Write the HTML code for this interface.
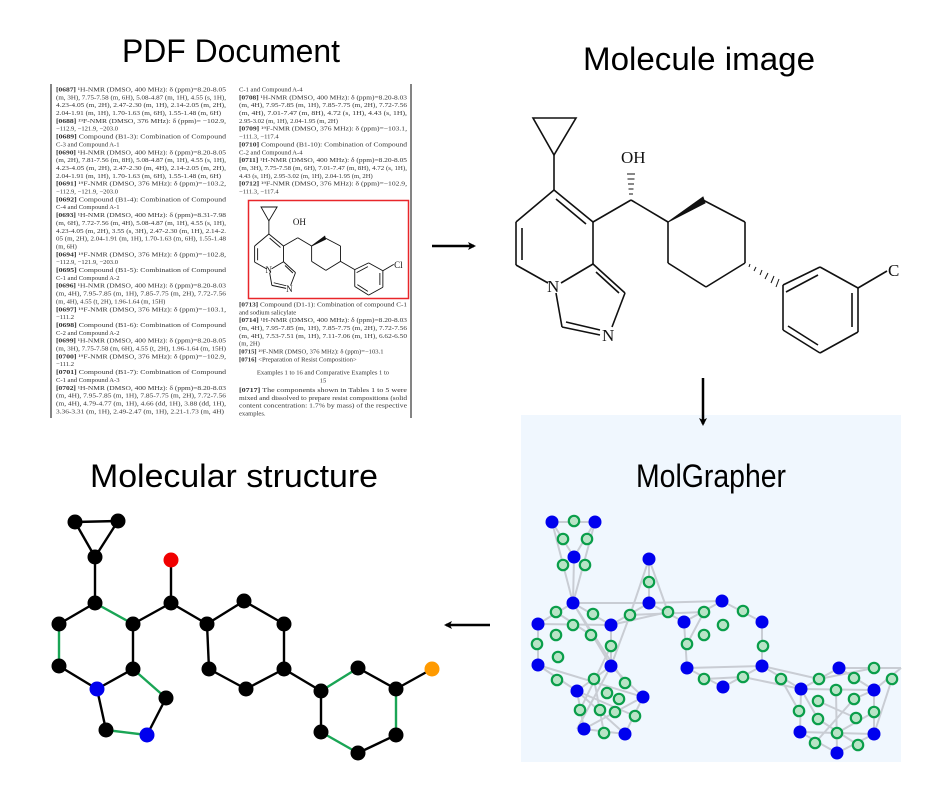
<!DOCTYPE html>
<html><head><meta charset="utf-8"><style>
html,body{margin:0;padding:0;background:#fff;}
svg{display:block;}
.t{font-family:"Liberation Sans",sans-serif;fill:#000;}
.d{font-family:"Liberation Serif",serif;font-size:6.6px;fill:#333;}
.b{font-weight:bold;}
</style></head><body>
<svg width="934" height="794" viewBox="0 0 934 794" xmlns="http://www.w3.org/2000/svg">
<defs>
<marker id="ah" markerWidth="8" markerHeight="8" refX="6" refY="4" orient="auto" markerUnits="userSpaceOnUse"><path d="M0,0 L8,4 L0,8 L2,4 Z" fill="#000"/></marker>
</defs>

<!-- titles -->
<text class="t" x="122" y="62" font-size="32" textLength="218" lengthAdjust="spacingAndGlyphs">PDF Document</text>
<text class="t" x="583" y="70" font-size="32" textLength="232" lengthAdjust="spacingAndGlyphs">Molecule image</text>
<rect x="521" y="415" width="380" height="347" fill="#f0f7fe"/>
<text class="t" x="90" y="487" font-size="32" textLength="288" lengthAdjust="spacingAndGlyphs">Molecular structure</text>
<text class="t" x="636" y="487" font-size="32" textLength="150" lengthAdjust="spacingAndGlyphs">MolGrapher</text>

<!-- arrows -->
<g stroke="#000" stroke-width="2.5" fill="none">
<line x1="432" y1="246" x2="474" y2="246" marker-end="url(#ah)"/>
<line x1="703" y1="378" x2="703" y2="424" marker-end="url(#ah)"/>
<line x1="490" y1="625" x2="446" y2="625" marker-end="url(#ah)"/>
</g>

<!-- PDF document -->
<line x1="51" y1="84" x2="51" y2="418" stroke="#333" stroke-width="1.2"/>
<line x1="411" y1="84" x2="411" y2="418" stroke="#333" stroke-width="1.2"/>
<g class="d">
<text x="56" y="91.5" textLength="170" lengthAdjust="spacingAndGlyphs"><tspan class="b">[0687]</tspan> ¹H-NMR (DMSO, 400 MHz): δ (ppm)=8.20-8.05</text>
<text x="56" y="99.3" textLength="170" lengthAdjust="spacingAndGlyphs">(m, 3H), 7.75-7.58 (m, 6H), 5.08-4.87 (m, 1H), 4.55 (s, 1H),</text>
<text x="56" y="107.2" textLength="170" lengthAdjust="spacingAndGlyphs">4.23-4.05 (m, 2H), 2.47-2.30 (m, 1H), 2.14-2.05 (m, 2H),</text>
<text x="56" y="115.0" textLength="165" lengthAdjust="spacingAndGlyphs">2.04-1.91 (m, 1H), 1.70-1.63 (m, 6H), 1.55-1.48 (m, 6H)</text>
<text x="56" y="122.9" textLength="170" lengthAdjust="spacingAndGlyphs"><tspan class="b">[0688]</tspan> ¹⁹F-NMR (DMSO, 376 MHz): δ (ppm)= −102.9,</text>
<text x="56" y="130.7">−112.9, −121.9, −203.0</text>
<text x="56" y="138.6" textLength="170" lengthAdjust="spacingAndGlyphs"><tspan class="b">[0689]</tspan> Compound (B1-3): Combination of Compound</text>
<text x="56" y="146.4">C-3 and Compound A-1</text>
<text x="56" y="154.3" textLength="170" lengthAdjust="spacingAndGlyphs"><tspan class="b">[0690]</tspan> ¹H-NMR (DMSO, 400 MHz): δ (ppm)=8.20-8.05</text>
<text x="56" y="162.1" textLength="170" lengthAdjust="spacingAndGlyphs">(m, 2H), 7.81-7.56 (m, 8H), 5.08-4.87 (m, 1H), 4.55 (s, 1H),</text>
<text x="56" y="170.0" textLength="170" lengthAdjust="spacingAndGlyphs">4.23-4.05 (m, 2H), 2.47-2.30 (m, 4H), 2.14-2.05 (m, 2H),</text>
<text x="56" y="177.8" textLength="165" lengthAdjust="spacingAndGlyphs">2.04-1.91 (m, 1H), 1.70-1.63 (m, 6H), 1.55-1.48 (m, 6H)</text>
<text x="56" y="185.7" textLength="170" lengthAdjust="spacingAndGlyphs"><tspan class="b">[0691]</tspan> ¹⁹F-NMR (DMSO, 376 MHz): δ (ppm)=−103.2,</text>
<text x="56" y="193.5">−112.9, −121.9, −203.0</text>
<text x="56" y="201.4" textLength="170" lengthAdjust="spacingAndGlyphs"><tspan class="b">[0692]</tspan> Compound (B1-4): Combination of Compound</text>
<text x="56" y="209.2">C-4 and Compound A-1</text>
<text x="56" y="217.1" textLength="170" lengthAdjust="spacingAndGlyphs"><tspan class="b">[0693]</tspan> ¹H-NMR (DMSO, 400 MHz): δ (ppm)=8.31-7.98</text>
<text x="56" y="224.9" textLength="170" lengthAdjust="spacingAndGlyphs">(m, 6H), 7.72-7.56 (m, 4H), 5.08-4.87 (m, 1H), 4.55 (s, 1H),</text>
<text x="56" y="232.8" textLength="170" lengthAdjust="spacingAndGlyphs">4.23-4.05 (m, 2H), 3.55 (s, 3H), 2.47-2.30 (m, 1H), 2.14-2.</text>
<text x="56" y="240.6" textLength="170" lengthAdjust="spacingAndGlyphs">05 (m, 2H), 2.04-1.91 (m, 1H), 1.70-1.63 (m, 6H), 1.55-1.48</text>
<text x="56" y="248.5">(m, 6H)</text>
<text x="56" y="256.3" textLength="170" lengthAdjust="spacingAndGlyphs"><tspan class="b">[0694]</tspan> ¹⁹F-NMR (DMSO, 376 MHz): δ (ppm)=−102.8,</text>
<text x="56" y="264.2">−112.9, −121.9, −203.0</text>
<text x="56" y="272.0" textLength="170" lengthAdjust="spacingAndGlyphs"><tspan class="b">[0695]</tspan> Compound (B1-5): Combination of Compound</text>
<text x="56" y="279.9">C-1 and Compound A-2</text>
<text x="56" y="287.7" textLength="170" lengthAdjust="spacingAndGlyphs"><tspan class="b">[0696]</tspan> ¹H-NMR (DMSO, 400 MHz): δ (ppm)=8.20-8.03</text>
<text x="56" y="295.6" textLength="170" lengthAdjust="spacingAndGlyphs">(m, 4H), 7.95-7.85 (m, 1H), 7.85-7.75 (m, 2H), 7.72-7.56</text>
<text x="56" y="303.4">(m, 4H), 4.55 (t, 2H), 1.96-1.64 (m, 15H)</text>
<text x="56" y="311.3" textLength="170" lengthAdjust="spacingAndGlyphs"><tspan class="b">[0697]</tspan> ¹⁹F-NMR (DMSO, 376 MHz): δ (ppm)=−103.1,</text>
<text x="56" y="319.1">−111.2</text>
<text x="56" y="327.0" textLength="170" lengthAdjust="spacingAndGlyphs"><tspan class="b">[0698]</tspan> Compound (B1-6): Combination of Compound</text>
<text x="56" y="334.8">C-2 and Compound A-2</text>
<text x="56" y="342.7" textLength="170" lengthAdjust="spacingAndGlyphs"><tspan class="b">[0699]</tspan> ¹H-NMR (DMSO, 400 MHz): δ (ppm)=8.20-8.05</text>
<text x="56" y="350.5" textLength="170" lengthAdjust="spacingAndGlyphs">(m, 3H), 7.75-7.58 (m, 6H), 4.55 (t, 2H), 1.96-1.64 (m, 15H)</text>
<text x="56" y="358.4" textLength="170" lengthAdjust="spacingAndGlyphs"><tspan class="b">[0700]</tspan> ¹⁹F-NMR (DMSO, 376 MHz): δ (ppm)=−102.9,</text>
<text x="56" y="366.2">−111.2</text>
<text x="56" y="374.1" textLength="170" lengthAdjust="spacingAndGlyphs"><tspan class="b">[0701]</tspan> Compound (B1-7): Combination of Compound</text>
<text x="56" y="381.9">C-1 and Compound A-3</text>
<text x="56" y="389.8" textLength="170" lengthAdjust="spacingAndGlyphs"><tspan class="b">[0702]</tspan> ¹H-NMR (DMSO, 400 MHz): δ (ppm)=8.20-8.03</text>
<text x="56" y="397.6" textLength="170" lengthAdjust="spacingAndGlyphs">(m, 4H), 7.95-7.85 (m, 1H), 7.85-7.75 (m, 2H), 7.72-7.56</text>
<text x="56" y="405.5" textLength="170" lengthAdjust="spacingAndGlyphs">(m, 4H), 4.79-4.77 (m, 1H), 4.66 (dd, 1H), 3.88 (dd, 1H),</text>
<text x="56" y="413.3" textLength="168" lengthAdjust="spacingAndGlyphs">3.36-3.31 (m, 1H), 2.49-2.47 (m, 1H), 2.21-1.73 (m, 4H)</text>

<text x="239" y="91.5">C-1 and Compound A-4</text>
<text x="239" y="99.3" textLength="168" lengthAdjust="spacingAndGlyphs"><tspan class="b">[0708]</tspan> ¹H-NMR (DMSO, 400 MHz): δ (ppm)=8.20-8.03</text>
<text x="239" y="107.2" textLength="168" lengthAdjust="spacingAndGlyphs">(m, 4H), 7.95-7.85 (m, 1H), 7.85-7.75 (m, 2H), 7.72-7.56</text>
<text x="239" y="115.0" textLength="168" lengthAdjust="spacingAndGlyphs">(m, 4H), 7.01-7.47 (m, 8H), 4.72 (s, 1H), 4.43 (s, 1H),</text>
<text x="239" y="122.9">2.95-3.02 (m, 1H), 2.04-1.95 (m, 2H)</text>
<text x="239" y="130.7" textLength="168" lengthAdjust="spacingAndGlyphs"><tspan class="b">[0709]</tspan> ¹⁹F-NMR (DMSO, 376 MHz): δ (ppm)=−103.1,</text>
<text x="239" y="138.6">−111.3, −117.4</text>
<text x="239" y="146.4" textLength="168" lengthAdjust="spacingAndGlyphs"><tspan class="b">[0710]</tspan> Compound (B1-10): Combination of Compound</text>
<text x="239" y="154.3">C-2 and Compound A-4</text>
<text x="239" y="162.1" textLength="168" lengthAdjust="spacingAndGlyphs"><tspan class="b">[0711]</tspan> ¹H-NMR (DMSO, 400 MHz): δ (ppm)=8.20-8.05</text>
<text x="239" y="170.0" textLength="168" lengthAdjust="spacingAndGlyphs">(m, 3H), 7.75-7.58 (m, 6H), 7.01-7.47 (m, 8H), 4.72 (s, 1H),</text>
<text x="239" y="177.8">4.43 (s, 1H), 2.95-3.02 (m, 1H), 2.04-1.95 (m, 2H)</text>
<text x="239" y="185.7" textLength="168" lengthAdjust="spacingAndGlyphs"><tspan class="b">[0712]</tspan> ¹⁹F-NMR (DMSO, 376 MHz): δ (ppm)=−102.9,</text>
<text x="239" y="193.5">−111.3, −117.4</text>

<text x="239" y="306.5" textLength="168" lengthAdjust="spacingAndGlyphs"><tspan class="b">[0713]</tspan> Compound (D1-1): Combination of compound C-1</text>
<text x="239" y="314.3">and sodium salicylate</text>
<text x="239" y="322.2" textLength="168" lengthAdjust="spacingAndGlyphs"><tspan class="b">[0714]</tspan> ¹H-NMR (DMSO, 400 MHz): δ (ppm)=8.20-8.03</text>
<text x="239" y="330.0" textLength="168" lengthAdjust="spacingAndGlyphs">(m, 4H), 7.95-7.85 (m, 1H), 7.85-7.75 (m, 2H), 7.72-7.56</text>
<text x="239" y="337.9" textLength="168" lengthAdjust="spacingAndGlyphs">(m, 4H), 7.53-7.51 (m, 1H), 7.11-7.06 (m, 1H), 6.62-6.50</text>
<text x="239" y="345.7">(m, 2H)</text>
<text x="239" y="353.6"><tspan class="b">[0715]</tspan> ¹⁹F-NMR (DMSO, 376 MHz): δ (ppm)=−103.1</text>
<text x="239" y="361.4"><tspan class="b">[0716]</tspan> &lt;Preparation of Resist Composition&gt;</text>
<text x="323" y="374.5" text-anchor="middle">Examples 1 to 16 and Comparative Examples 1 to</text>
<text x="323" y="382.3" text-anchor="middle">15</text>
<text x="239" y="392" textLength="168" lengthAdjust="spacingAndGlyphs"><tspan class="b">[0717]</tspan> The components shown in Tables 1 to 5 were</text>
<text x="239" y="399.8" textLength="168" lengthAdjust="spacingAndGlyphs">mixed and dissolved to prepare resist compositions (solid</text>
<text x="239" y="407.7" textLength="168" lengthAdjust="spacingAndGlyphs">content concentration: 1.7% by mass) of the respective</text>
<text x="239" y="415.5">examples.</text>
</g>
<rect x="248.5" y="200.5" width="160" height="98" fill="none" stroke="#e8262a" stroke-width="1.5"/>

<!-- big molecule -->
<g stroke="#111" stroke-width="1.6" fill="none">
<path d="M533,118 L576,118 L554,155 Z"/>
<line x1="554" y1="155" x2="554" y2="190"/>
<line x1="554" y1="190" x2="516" y2="222"/>
<line x1="516" y1="222" x2="516" y2="265"/>
<line x1="522" y1="228" x2="522" y2="260"/>
<line x1="516" y1="265" x2="548" y2="283"/>
<line x1="561" y1="283" x2="593" y2="264"/>
<line x1="593" y1="264" x2="593" y2="222"/>
<line x1="593" y1="222" x2="554" y2="190"/>
<line x1="586" y1="224" x2="556" y2="199"/>
<line x1="593" y1="264" x2="625" y2="293"/>
<line x1="596" y1="272" x2="619" y2="293"/>
<line x1="625" y1="293" x2="612" y2="327"/>
<line x1="600" y1="335" x2="562" y2="327"/>
<line x1="600" y1="330" x2="566" y2="322"/>
<line x1="562" y1="327" x2="556" y2="293"/>
<line x1="593" y1="222" x2="631" y2="200"/>
<line x1="631" y1="200" x2="668" y2="222"/>
<line x1="668" y1="222" x2="668" y2="263"/>
<line x1="668" y1="263" x2="706" y2="287"/>
<line x1="706" y1="287" x2="745" y2="263"/>
<line x1="745" y1="263" x2="745" y2="222"/>
<line x1="745" y1="222" x2="703" y2="200"/>
<line x1="783" y1="285" x2="820" y2="267"/>
<line x1="786" y1="292" x2="818" y2="275"/>
<line x1="820" y1="267" x2="858" y2="288"/>
<line x1="858" y1="288" x2="858" y2="332"/>
<line x1="852" y1="293" x2="852" y2="327"/>
<line x1="858" y1="332" x2="820" y2="353"/>
<line x1="820" y1="353" x2="783" y2="330"/>
<line x1="818" y1="345" x2="788" y2="326"/>
<line x1="783" y1="330" x2="783" y2="285"/>
<line x1="858" y1="288" x2="887" y2="271"/>
<path d="M668,222 L703,197 L705,203 Z" fill="#111" stroke-width="1"/>
<g stroke-width="1"><line x1="629" y1="194" x2="633" y2="194"/><line x1="628.5" y1="189" x2="633.5" y2="189"/><line x1="628" y1="184" x2="634" y2="184"/><line x1="627.5" y1="179" x2="634.5" y2="179"/><line x1="627" y1="174" x2="635" y2="174"/>
<line x1="750" y1="264" x2="749" y2="267"/><line x1="756" y1="267" x2="754" y2="271"/><line x1="762" y1="270" x2="760" y2="275"/><line x1="768" y1="273" x2="765" y2="279"/><line x1="774" y1="276" x2="771" y2="283"/><line x1="779" y1="279" x2="776" y2="287"/></g>
<g fill="#111" stroke="none" font-family="Liberation Serif,serif" font-size="17">
<text x="621" y="163">OH</text>
<text x="547" y="292">N</text>
<text x="602" y="341">N</text>
<text x="888" y="276">C</text>
</g>
</g>

<!-- small molecule in red box -->
<g transform="translate(261,207) scale(0.375) translate(-533,-118)" stroke="#111" stroke-width="2.4" fill="none">
<path d="M533,118 L576,118 L554,155 Z"/>
<line x1="554" y1="155" x2="554" y2="190"/>
<line x1="554" y1="190" x2="516" y2="222"/>
<line x1="516" y1="222" x2="516" y2="265"/>
<line x1="524" y1="228" x2="524" y2="260"/>
<line x1="516" y1="265" x2="548" y2="283"/>
<line x1="561" y1="283" x2="593" y2="264"/>
<line x1="593" y1="264" x2="593" y2="222"/>
<line x1="593" y1="222" x2="554" y2="190"/>
<line x1="585" y1="226" x2="556" y2="201"/>
<line x1="593" y1="264" x2="625" y2="293"/>
<line x1="597" y1="274" x2="618" y2="294"/>
<line x1="625" y1="293" x2="612" y2="327"/>
<line x1="600" y1="335" x2="562" y2="327"/>
<line x1="600" y1="328" x2="567" y2="320"/>
<line x1="562" y1="327" x2="556" y2="293"/>
<line x1="593" y1="222" x2="631" y2="200"/>
<line x1="631" y1="200" x2="668" y2="222"/>
<line x1="668" y1="222" x2="668" y2="263"/>
<line x1="668" y1="263" x2="706" y2="287"/>
<line x1="706" y1="287" x2="745" y2="263"/>
<line x1="745" y1="263" x2="745" y2="222"/>
<line x1="745" y1="222" x2="703" y2="200"/>
<line x1="745" y1="263" x2="783" y2="285"/>
<line x1="783" y1="285" x2="820" y2="267"/>
<line x1="788" y1="293" x2="818" y2="277"/>
<line x1="820" y1="267" x2="858" y2="288"/>
<line x1="858" y1="288" x2="858" y2="332"/>
<line x1="850" y1="294" x2="850" y2="326"/>
<line x1="858" y1="332" x2="820" y2="353"/>
<line x1="820" y1="353" x2="783" y2="330"/>
<line x1="818" y1="343" x2="790" y2="325"/>
<line x1="783" y1="330" x2="783" y2="285"/>
<line x1="858" y1="288" x2="887" y2="271"/>
<path d="M668,222 L703,196 L705,204 Z" fill="#111"/>
<g fill="#111" stroke="none" font-family="Liberation Serif,serif" font-size="24">
<text x="618" y="166">OH</text>
<text x="545" y="294">N</text>
<text x="600" y="344">N</text>
<text x="888" y="280">Cl</text>
</g>
</g>

<!-- MolGrapher graph -->
<g stroke="#c9cdd4" stroke-width="2" fill="none">
<path d="M552,522 L595,522 L574,557 Z"/>
<line x1="552" y1="522" x2="573" y2="603"/><line x1="595" y1="522" x2="573" y2="603"/><line x1="574" y1="557" x2="573" y2="603"/>
<line x1="573" y1="603" x2="538" y2="624"/><line x1="573" y1="603" x2="611" y2="625"/><line x1="538" y1="624" x2="538" y2="665"/>
<line x1="538" y1="665" x2="577" y2="691"/><line x1="611" y1="625" x2="611" y2="666"/><line x1="611" y1="666" x2="577" y2="691"/>
<line x1="611" y1="666" x2="643" y2="697"/><line x1="577" y1="691" x2="584" y2="729"/><line x1="584" y1="729" x2="625" y2="734"/><line x1="625" y1="734" x2="643" y2="697"/>
<line x1="611" y1="625" x2="649" y2="603"/><line x1="649" y1="603" x2="649" y2="559"/><line x1="649" y1="603" x2="684" y2="622"/>
<line x1="684" y1="622" x2="722" y2="601"/><line x1="722" y1="601" x2="762" y2="622"/><line x1="762" y1="622" x2="762" y2="666"/>
<line x1="684" y1="622" x2="687" y2="668"/><line x1="687" y1="668" x2="723" y2="687"/><line x1="723" y1="687" x2="762" y2="666"/>
<line x1="762" y1="666" x2="801" y2="689"/><line x1="801" y1="689" x2="839" y2="668"/><line x1="839" y1="668" x2="874" y2="690"/>
<line x1="874" y1="690" x2="901" y2="668"/><line x1="874" y1="690" x2="874" y2="734"/><line x1="801" y1="689" x2="800" y2="732"/>
<line x1="800" y1="732" x2="837" y2="753"/><line x1="837" y1="753" x2="874" y2="734"/>
<line x1="573" y1="603" x2="649" y2="603"/><line x1="611" y1="625" x2="668" y2="612"/><line x1="630" y1="615" x2="704" y2="612"/>
<line x1="649" y1="603" x2="722" y2="601"/><line x1="649" y1="559" x2="630" y2="615"/><line x1="649" y1="559" x2="668" y2="612"/>
<line x1="630" y1="615" x2="611" y2="666"/><line x1="538" y1="624" x2="611" y2="625"/><line x1="538" y1="665" x2="643" y2="697"/>
<line x1="573" y1="603" x2="625" y2="683"/><line x1="573" y1="603" x2="611" y2="666"/><line x1="556" y1="612" x2="591" y2="635"/>
<line x1="577" y1="691" x2="625" y2="734"/><line x1="584" y1="729" x2="643" y2="697"/><line x1="611" y1="666" x2="577" y2="729"/>
<line x1="594" y1="679" x2="604" y2="733"/><line x1="611" y1="646" x2="580" y2="710"/><line x1="635" y1="716" x2="577" y2="691"/>
<line x1="687" y1="644" x2="704" y2="612"/><line x1="704" y1="679" x2="743" y2="677"/><line x1="687" y1="668" x2="762" y2="666"/>
<line x1="762" y1="666" x2="819" y2="679"/><line x1="743" y1="677" x2="801" y2="689"/><line x1="781" y1="679" x2="799" y2="711"/>
<line x1="801" y1="689" x2="874" y2="690"/><line x1="839" y1="668" x2="901" y2="668"/><line x1="819" y1="679" x2="874" y2="668"/>
<line x1="800" y1="732" x2="874" y2="734"/><line x1="818" y1="701" x2="856" y2="718"/><line x1="836" y1="690" x2="837" y2="753"/>
<line x1="854" y1="699" x2="815" y2="743"/><line x1="818" y1="719" x2="858" y2="745"/><line x1="874" y1="712" x2="837" y2="733"/>
<line x1="892" y1="679" x2="874" y2="734"/><line x1="801" y1="689" x2="818" y2="719"/><line x1="874" y1="690" x2="854" y2="699"/>
</g>
<g fill="#0000ee">
<circle cx="552" cy="522" r="6.5"/><circle cx="595" cy="522" r="6.5"/><circle cx="574" cy="557" r="6.5"/><circle cx="649" cy="559" r="6.5"/>
<circle cx="573" cy="603" r="6.5"/><circle cx="649" cy="603" r="6.5"/><circle cx="722" cy="601" r="6.5"/><circle cx="538" cy="624" r="6.5"/>
<circle cx="611" cy="625" r="6.5"/><circle cx="684" cy="622" r="6.5"/><circle cx="762" cy="622" r="6.5"/><circle cx="538" cy="665" r="6.5"/>
<circle cx="611" cy="666" r="6.5"/><circle cx="687" cy="668" r="6.5"/><circle cx="762" cy="666" r="6.5"/><circle cx="723" cy="687" r="6.5"/>
<circle cx="577" cy="691" r="6.5"/><circle cx="643" cy="697" r="6.5"/><circle cx="801" cy="689" r="6.5"/><circle cx="839" cy="668" r="6.5"/>
<circle cx="874" cy="690" r="6.5"/><circle cx="584" cy="729" r="6.5"/><circle cx="625" cy="734" r="6.5"/><circle cx="800" cy="732" r="6.5"/>
<circle cx="874" cy="734" r="6.5"/><circle cx="837" cy="753" r="6.5"/>
</g>
<g fill="#b8e4c6" stroke="#0a9e4a" stroke-width="2.2">
<circle cx="574" cy="521" r="5.2"/><circle cx="563" cy="539" r="5.2"/><circle cx="587" cy="539" r="5.2"/><circle cx="563" cy="565" r="5.2"/>
<circle cx="585" cy="565" r="5.2"/><circle cx="649" cy="582" r="5.2"/><circle cx="556" cy="612" r="5.2"/><circle cx="593" cy="614" r="5.2"/>
<circle cx="630" cy="615" r="5.2"/><circle cx="668" cy="612" r="5.2"/><circle cx="704" cy="612" r="5.2"/><circle cx="743" cy="611" r="5.2"/>
<circle cx="573" cy="625" r="5.2"/><circle cx="556" cy="635" r="5.2"/><circle cx="591" cy="635" r="5.2"/><circle cx="723" cy="625" r="5.2"/>
<circle cx="704" cy="635" r="5.2"/><circle cx="537" cy="644" r="5.2"/><circle cx="611" cy="646" r="5.2"/><circle cx="687" cy="644" r="5.2"/>
<circle cx="763" cy="646" r="5.2"/><circle cx="558" cy="657" r="5.2"/><circle cx="557" cy="680" r="5.2"/><circle cx="594" cy="679" r="5.2"/>
<circle cx="625" cy="683" r="5.2"/><circle cx="704" cy="679" r="5.2"/><circle cx="743" cy="677" r="5.2"/><circle cx="607" cy="693" r="5.2"/>
<circle cx="619" cy="699" r="5.2"/><circle cx="580" cy="710" r="5.2"/><circle cx="600" cy="710" r="5.2"/><circle cx="615" cy="712" r="5.2"/>
<circle cx="635" cy="716" r="5.2"/><circle cx="604" cy="733" r="5.2"/><circle cx="781" cy="679" r="5.2"/><circle cx="819" cy="679" r="5.2"/>
<circle cx="854" cy="678" r="5.2"/><circle cx="874" cy="668" r="5.2"/><circle cx="892" cy="679" r="5.2"/><circle cx="836" cy="690" r="5.2"/>
<circle cx="818" cy="701" r="5.2"/><circle cx="854" cy="699" r="5.2"/><circle cx="799" cy="711" r="5.2"/><circle cx="818" cy="719" r="5.2"/>
<circle cx="856" cy="718" r="5.2"/><circle cx="874" cy="712" r="5.2"/><circle cx="837" cy="733" r="5.2"/><circle cx="815" cy="743" r="5.2"/>
<circle cx="858" cy="745" r="5.2"/>
</g>

<!-- Molecular structure graph -->
<g stroke="#000" stroke-width="2.4">
<line x1="75" y1="522" x2="118" y2="521"/><line x1="75" y1="522" x2="95" y2="557"/><line x1="118" y1="521" x2="95" y2="557"/>
<line x1="95" y1="557" x2="95" y2="603"/><line x1="95" y1="603" x2="59" y2="624"/><line x1="59" y1="666" x2="97" y2="689"/>
<line x1="133" y1="624" x2="171" y2="603"/><line x1="133" y1="624" x2="133" y2="669"/><line x1="133" y1="669" x2="97" y2="689"/>
<line x1="97" y1="689" x2="106" y2="730"/><line x1="147" y1="735" x2="166" y2="698"/><line x1="171" y1="603" x2="171" y2="560"/>
<line x1="171" y1="603" x2="207" y2="624"/><line x1="207" y1="624" x2="244" y2="601"/><line x1="244" y1="601" x2="284" y2="624"/>
<line x1="284" y1="624" x2="284" y2="669"/><line x1="207" y1="624" x2="209" y2="669"/><line x1="209" y1="669" x2="246" y2="689"/>
<line x1="246" y1="689" x2="284" y2="669"/><line x1="284" y1="669" x2="321" y2="691"/><line x1="358" y1="668" x2="396" y2="689"/>
<line x1="396" y1="689" x2="432" y2="669"/><line x1="321" y1="691" x2="321" y2="732"/><line x1="358" y1="753" x2="396" y2="735"/>
</g>
<g stroke="#1aa555" stroke-width="2.4">
<line x1="95" y1="603" x2="133" y2="624"/><line x1="59" y1="624" x2="59" y2="666"/><line x1="133" y1="669" x2="166" y2="698"/>
<line x1="106" y1="730" x2="147" y2="735"/><line x1="321" y1="691" x2="358" y2="668"/><line x1="396" y1="689" x2="396" y2="735"/>
<line x1="321" y1="732" x2="358" y2="753"/>
</g>
<g fill="#000">
<circle cx="75" cy="522" r="7.5"/><circle cx="118" cy="521" r="7.5"/><circle cx="95" cy="557" r="7.5"/><circle cx="95" cy="603" r="7.5"/>
<circle cx="59" cy="624" r="7.5"/><circle cx="133" cy="624" r="7.5"/><circle cx="59" cy="666" r="7.5"/><circle cx="133" cy="669" r="7.5"/>
<circle cx="166" cy="698" r="7.5"/><circle cx="106" cy="730" r="7.5"/><circle cx="171" cy="603" r="7.5"/><circle cx="207" cy="624" r="7.5"/>
<circle cx="244" cy="601" r="7.5"/><circle cx="284" cy="624" r="7.5"/><circle cx="209" cy="669" r="7.5"/><circle cx="246" cy="689" r="7.5"/>
<circle cx="284" cy="669" r="7.5"/><circle cx="321" cy="691" r="7.5"/><circle cx="358" cy="668" r="7.5"/><circle cx="396" cy="689" r="7.5"/>
<circle cx="321" cy="732" r="7.5"/><circle cx="396" cy="735" r="7.5"/><circle cx="358" cy="753" r="7.5"/>
</g>
<circle cx="97" cy="689" r="7.5" fill="#0000ee"/>
<circle cx="147" cy="735" r="7.5" fill="#0000ee"/>
<circle cx="171" cy="560" r="7.5" fill="#f00000"/>
<circle cx="432" cy="669" r="7.5" fill="#ff9a00"/>
</svg>
</body></html>
